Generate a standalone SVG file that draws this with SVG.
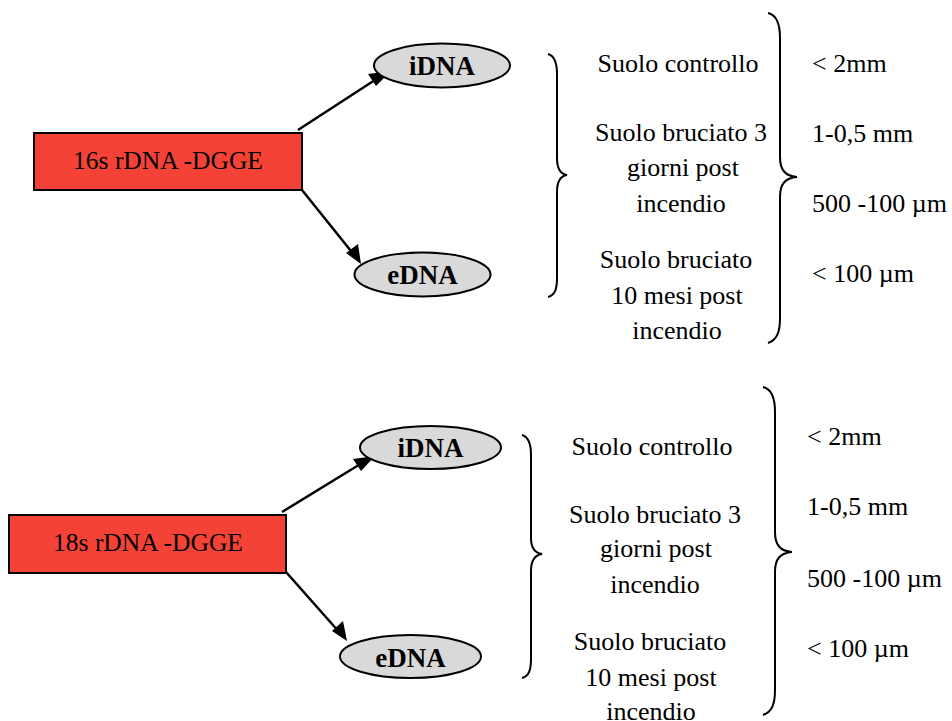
<svg xmlns="http://www.w3.org/2000/svg" width="952" height="721" viewBox="0 0 952 721">
<style>
.rect{fill:#f44336;stroke:#000;stroke-width:2}
.ell{fill:#d9d9d9;stroke:#000;stroke-width:2}
.t{font-family:"Liberation Serif","Times New Roman",serif;font-size:26px;fill:#000}
.tr{font-family:"Liberation Serif","Times New Roman",serif;font-size:25.5px;fill:#000;text-anchor:middle}
.tb{font-family:"Liberation Serif","Times New Roman",serif;font-size:27px;font-weight:bold;fill:#000;text-anchor:middle}
.c{text-anchor:middle}
.brace{fill:none;stroke:#000;stroke-width:2}
.arr{stroke:#000;stroke-width:2.5;fill:none;marker-end:url(#ah)}
</style>
<defs>
<marker id="ah" markerWidth="10" markerHeight="10" refX="9" refY="5" orient="auto" markerUnits="userSpaceOnUse" viewBox="0 0 10 10">
<path d="M0,0 L10,5 L0,10 z" fill="#000"/>
</marker>
</defs>
<rect width="952" height="721" fill="#fff"/>
<g id="connectors">
<line class="arr" x1="298" y1="130" x2="378" y2="78" style="marker-end:none"/>
<path d="M391,71 L376,86 L368,74 z" fill="#000"/>
<line class="arr" x1="302" y1="190" x2="355" y2="256" style="marker-end:none"/>
<path d="M361,264 L346,253 L358,244 z" fill="#000"/>
<line class="arr" x1="282" y1="512" x2="362" y2="463" style="marker-end:none"/>
<path d="M375,456 L361,471 L353,459 z" fill="#000"/>
<line class="arr" x1="286" y1="572" x2="340" y2="633" style="marker-end:none"/>
<path d="M347,641 L332,631 L343,621 z" fill="#000"/>
</g>
<g id="node-16s">
<rect class="rect" x="34" y="133" width="268" height="57"/>
<text class="tr" x="168" y="169">16s rDNA -DGGE</text>
</g>
<g id="node-idna-1">
<ellipse class="ell" cx="442" cy="65.5" rx="68" ry="22"/>
<text class="tb" x="442" y="75">iDNA</text>
</g>
<g id="node-edna-1">
<ellipse class="ell" cx="422.5" cy="274.5" rx="68" ry="22"/>
<text class="tb" x="422.5" y="284">eDNA</text>
</g>
<g id="brace-left-1">
<path class="brace" d="M548,54 C555,56 557,63 557,74 L557,158 C557,168 560,174 567,175 C560,176 557,182 557,192 L557,278 C557,289 555,295 548,297"/>
</g>
<g id="samples-1" class="t">
<text class="c" x="678" y="72">Suolo controllo</text>
<text class="c" x="681" y="141">Suolo bruciato 3</text>
<text class="c" x="683" y="176">giorni post</text>
<text class="c" x="681" y="212">incendio</text>
<text class="c" x="676" y="268">Suolo bruciato</text>
<text class="c" x="677" y="304">10 mesi post</text>
<text class="c" x="677" y="339">incendio</text>
</g>
<g id="brace-right-1">
<path class="brace" d="M768,13 C777,15 780,24 780,38 L780,157 C780,170 785,176 797,177 C785,178 780,184 780,197 L780,318 C780,332 777,340 768,343"/>
</g>
<g id="sizes-1" class="t">
<text x="812" y="72">&lt; 2mm</text>
<text x="812" y="142">1-0,5 mm</text>
<text x="812" y="212">500 -100 µm</text>
<text x="812" y="282">&lt; 100 µm</text>
</g>
<g id="node-18s">
<rect class="rect" x="9" y="515" width="277" height="58"/>
<text class="tr" x="148" y="551">18s rDNA -DGGE</text>
</g>
<g id="node-idna-2">
<ellipse class="ell" cx="430.5" cy="447.5" rx="70.5" ry="21.5"/>
<text class="tb" x="430.5" y="457">iDNA</text>
</g>
<g id="node-edna-2">
<ellipse class="ell" cx="410.5" cy="656.5" rx="70.5" ry="21.5"/>
<text class="tb" x="410.5" y="667">eDNA</text>
</g>
<g id="brace-left-2">
<path class="brace" d="M522,435 C529,437 531,444 531,455 L531,538 C531,548 535,553 542,554 C535,555 531,561 531,571 L531,659 C531,670 529,676 522,678"/>
</g>
<g id="samples-2" class="t">
<text class="c" x="652" y="455">Suolo controllo</text>
<text class="c" x="655" y="523">Suolo bruciato 3</text>
<text class="c" x="656" y="557">giorni post</text>
<text class="c" x="655" y="593">incendio</text>
<text class="c" x="650" y="650">Suolo bruciato</text>
<text class="c" x="651" y="686">10 mesi post</text>
<text class="c" x="651" y="720">incendio</text>
</g>
<g id="brace-right-2">
<path class="brace" d="M763,387 C772,389 775,398 775,412 L775,532 C775,545 780,551 792,552 C780,553 775,559 775,572 L775,690 C775,704 772,712 763,715"/>
</g>
<g id="sizes-2" class="t">
<text x="807" y="445">&lt; 2mm</text>
<text x="807" y="515">1-0,5 mm</text>
<text x="807" y="587">500 -100 µm</text>
<text x="807" y="657">&lt; 100 µm</text>
</g>
</svg>
